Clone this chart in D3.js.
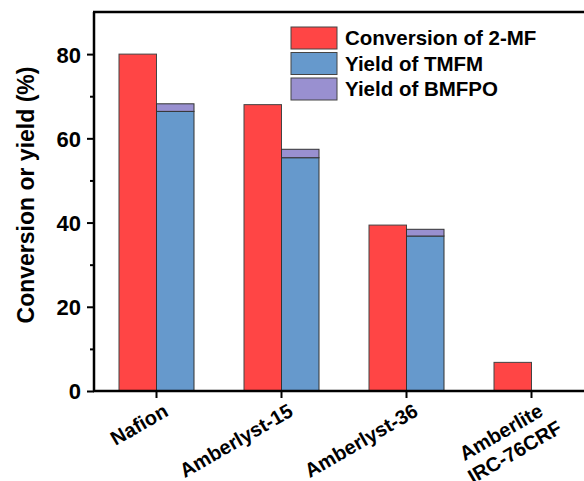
<!DOCTYPE html>
<html><head><meta charset="utf-8">
<script src="https://cdn.jsdelivr.net/npm/d3@7"></script>
<style>body{margin:0;background:#fff}svg{display:block}text{font-family:"Liberation Sans",Arial,sans-serif;font-weight:bold}</style>
</head><body><svg id="c" width="584" height="481"></svg>
<script>
const categories = ["Nafion","Amberlyst-15","Amberlyst-36","Amberlite\nIRC-76CRF"];
const conversion = [80, 68, 39.4, 6.8];
const yieldTMFM = [66.4, 55.4, 36.8, 0];
const yieldBMFPO = [1.8, 2.0, 1.6, 0];
const yTicks = [0, 20, 40, 60, 80];
const yMinor = [10, 30, 50, 70];
const seriesNames = ["Conversion of 2-MF","Yield of TMFM","Yield of BMFPO"];
const colors = ["#FF4545","#6699CC","#9990D0"];

const svg = d3.select("#c");
const L = 94, T = 12, B = 391, R = 594;
const x = d3.scaleBand().domain(categories).range([L, R]);
const y = d3.scaleLinear().domain([0, 90]).range([B, T]);
const bw = 37.5;

const g = svg.append("g");
categories.forEach((c, i) => {
  const cx = x(c) + x.bandwidth()/2;
  g.append("rect").attr("x", cx - bw).attr("width", bw)
    .attr("y", y(conversion[i])).attr("height", y(0) - y(conversion[i]))
    .attr("fill", colors[0]).attr("stroke", "#444").attr("stroke-width", 1);
  if (yieldTMFM[i] > 0) {
    g.append("rect").attr("x", cx).attr("width", bw)
      .attr("y", y(yieldTMFM[i])).attr("height", y(0) - y(yieldTMFM[i]))
      .attr("fill", colors[1]).attr("stroke", "#333").attr("stroke-width", 1);
  }
  if (yieldBMFPO[i] > 0) {
    const top = yieldTMFM[i] + yieldBMFPO[i];
    g.append("rect").attr("x", cx).attr("width", bw)
      .attr("y", y(top)).attr("height", y(yieldTMFM[i]) - y(top))
      .attr("fill", colors[2]).attr("stroke", "#333").attr("stroke-width", 1);
  }
});

// axes
const yAxis = d3.axisLeft(y).tickValues(yTicks).tickSize(7).tickPadding(6).tickFormat(d3.format("d"));
const ya = svg.append("g").attr("transform", `translate(${L},0)`).call(yAxis);
ya.select(".domain").remove();
ya.selectAll("line").attr("stroke", "#000").attr("stroke-width", 2);
ya.selectAll("text").attr("font-size", 22).attr("fill", "#000").attr("dy", "0.36em");
const yMin = d3.axisLeft(y).tickValues(yMinor).tickSize(4).tickFormat("");
const ym = svg.append("g").attr("transform", `translate(${L},0)`).call(yMin);
ym.select(".domain").remove();
ym.selectAll("line").attr("stroke", "#000").attr("stroke-width", 2);

const xAxis = d3.axisBottom(x).tickSize(7).tickFormat("");
const xa = svg.append("g").attr("transform", `translate(0,${B})`).call(xAxis);
xa.select(".domain").remove();
xa.selectAll("line").attr("stroke", "#000").attr("stroke-width", 2);

// frame lines
svg.append("line").attr("x1", L).attr("x2", L).attr("y1", T).attr("y2", B + 1).attr("stroke", "#000").attr("stroke-width", 2.5);
svg.append("line").attr("x1", L - 1).attr("x2", 584).attr("y1", B).attr("y2", B).attr("stroke", "#000").attr("stroke-width", 2.5);
svg.append("line").attr("x1", L - 1).attr("x2", 584).attr("y1", T).attr("y2", T).attr("stroke", "#000").attr("stroke-width", 2.5);

// x labels
categories.forEach((c, i) => {
  const cx = x(c) + x.bandwidth()/2;
  const lines = c.split("\n");
  const t = svg.append("text").attr("font-size", 20).attr("text-anchor", "end")
    .attr("transform", `translate(${cx + 13},${B + 24}) rotate(-30)`);
  lines.forEach((ln, k) => {
    t.append("tspan").attr("x", k === 0 ? 0 : 8).attr("dy", k === 0 ? 0 : "1.2em").text(ln);
  });
});

// y title
svg.append("text").attr("font-size", 23).attr("text-anchor", "middle")
  .attr("transform", `translate(34,195) rotate(-90)`).text("Conversion or yield (%)");

// legend
const lg = svg.append("g");
seriesNames.forEach((s, i) => {
  const yy = 27 + i * 25.5;
  lg.append("rect").attr("x", 291).attr("y", yy).attr("width", 46).attr("height", 22)
    .attr("fill", colors[i]).attr("stroke", "#444").attr("stroke-width", 1);
  lg.append("text").attr("x", 345).attr("y", yy + 11).attr("dy", "0.36em").attr("font-size", 20.5).text(s);
});
</script></body></html>
